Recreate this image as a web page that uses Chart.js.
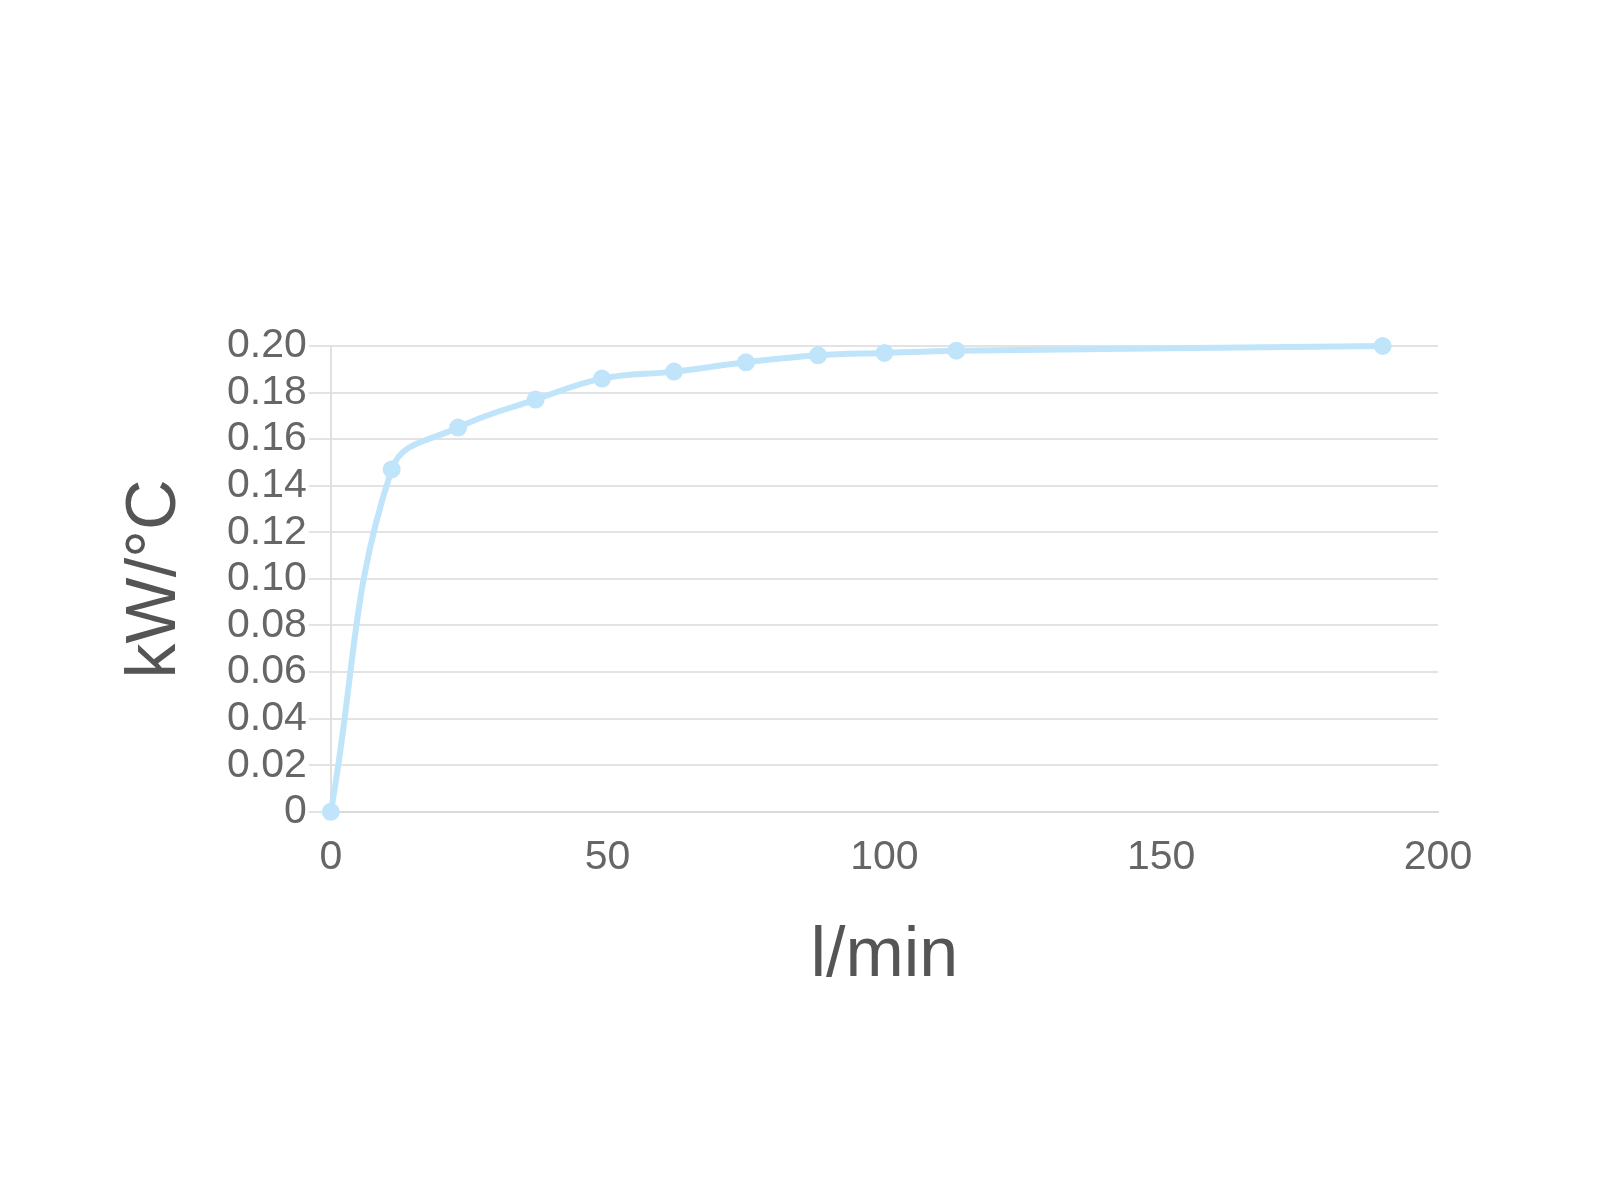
<!DOCTYPE html>
<html lang="en">
<head>
  <meta charset="UTF-8">
  <title>kW/°C vs l/min</title>
  <script src="https://cdn.jsdelivr.net/npm/chart.js"></script>
  <style>
    html, body {
      margin: 0;
      padding: 0;
      background: #fff;
    }
    #chart {
      display: block;
    }
  </style>
</head>
<body>
  <canvas id="chart" width="1600" height="1200"></canvas>
  <script>
    // values
    const flowRates = [0, 11, 23, 37, 49, 62, 75, 88, 100, 113, 190];
    const heatValues = [0, 0.147, 0.165, 0.177, 0.186, 0.189, 0.193, 0.196, 0.197, 0.198, 0.200];
    const xTicks = [0, 50, 100, 150, 200];
    const yTicks = [0, 0.02, 0.04, 0.06, 0.08, 0.10, 0.12, 0.14, 0.16, 0.18, 0.20];

    const lineColor = 'rgb(192,228,250)';
    const tickFont = { family: "'Liberation Sans', Arial, sans-serif", size: 41 };
    const titleFont = { family: "'Liberation Sans', Arial, sans-serif", size: 70 };

    new Chart(document.getElementById('chart').getContext('2d'), {
      type: 'line',
      data: {
        datasets: [{
          data: flowRates.map((x, i) => ({ x: x, y: heatValues[i] })),
          borderColor: lineColor,
          backgroundColor: lineColor,
          borderWidth: 6,
          pointRadius: 6,
          pointHoverRadius: 6,
          tension: 0.4,
          fill: false,
          clip: false
        }]
      },
      options: {
        responsive: false,
        animation: false,
        layout: { padding: { left: 110, right: 162, top: 346, bottom: 197 } },
        plugins: { legend: { display: false }, tooltip: { enabled: false } },
        scales: {
          x: {
            type: 'linear',
            min: 0,
            max: 200,
            afterBuildTicks: axis => { axis.ticks = xTicks.map(v => ({ value: v })); },
            grid: { display: false, drawTicks: false },
            border: { display: true, color: '#d9d9d9', width: 2 },
            ticks: { color: '#666', font: tickFont, padding: 21, autoSkip: false, maxRotation: 0 },
            title: { display: true, text: 'l/min', color: '#555', font: titleFont, padding: { top: 12 } }
          },
          y: {
            min: 0,
            max: 0.2,
            afterBuildTicks: axis => { axis.ticks = yTicks.map(v => ({ value: v })); },
            grid: { color: '#e3e3e3', lineWidth: 2, tickLength: 22 },
            border: { display: true, color: '#e0e0e0', width: 2 },
            ticks: {
              color: '#666',
              font: tickFont,
              padding: 2,
              autoSkip: false,
              callback: v => v === 0 ? '0' : v.toFixed(2)
            },
            title: { display: true, text: 'kW/°C', color: '#555', font: titleFont, padding: { bottom: 27 } }
          }
        }
      }
    });
  </script>
</body>
</html>
